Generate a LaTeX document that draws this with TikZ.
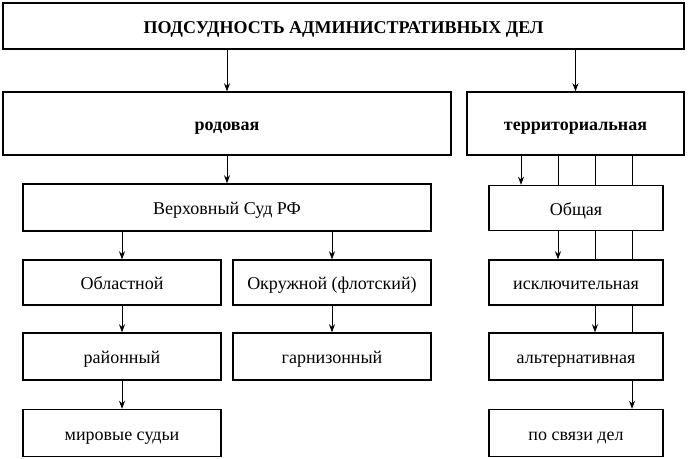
\documentclass[tikz,border=0pt]{standalone}
\usepackage{fontspec}
\setmainfont{Liberation Serif}
\usetikzlibrary{arrows.meta,backgrounds}

\begin{document}
\begin{tikzpicture}[x=1pt,y=-1pt,
  box/.style={draw,line width=1.5pt,fill=white,inner sep=0pt,text height=15pt,text depth=1pt,
    font=\fontsize{18}{21}\selectfont},
  head/.style={box,font=\bfseries\fontsize{18}{21}\selectfont},
  arr/.style={line width=0.7pt,-{Stealth[length=8pt,width=6pt]}}]
\useasboundingbox (0,0) rectangle (688,458);
% boxes
\node[head,minimum width=681pt,minimum height=46pt] (title) at (343.5,26) {ПОДСУДНОСТЬ АДМИНИСТРАТИВНЫХ ДЕЛ};
\node[head,minimum width=448pt,minimum height=63pt] (rod) at (227,123.5) {родовая};
\node[head,minimum width=217pt,minimum height=63pt] (terr) at (575.5,123.5) {территориальная};
\node[box,minimum width=408pt,minimum height=47pt] (vs) at (227,207.5) {Верховный Суд РФ};
\node[box,minimum width=198pt,minimum height=45pt] (obl) at (122,282.5) {Областной};
\node[box,minimum width=198pt,minimum height=45pt] (okr) at (332,282.5) {Окружной (флотский)};
\node[box,minimum width=198pt,minimum height=47pt] (ray) at (122,356.5) {районный};
\node[box,minimum width=198pt,minimum height=47pt] (garn) at (332,356.5) {гарнизонный};
\node[box,minimum width=198pt,minimum height=47pt] (mir) at (122,433) {мировые судьи};
\node[box,minimum width=174pt,minimum height=45pt] (obsh) at (576,208) {Общая};
\node[box,minimum width=174pt,minimum height=45pt] (iskl) at (576,282.5) {исключительная};
\node[box,minimum width=174pt,minimum height=47pt] (alt) at (576,356.5) {альтернативная};
\node[box,minimum width=174pt,minimum height=47pt] (svz) at (576,433) {по связи дел};
% arrows
\draw[arr] (title.south -| rod) -- (rod);
\draw[arr] (title.south -| terr) -- (terr);
\draw[arr] (rod) -- (vs);
\draw[arr] (vs.south -| obl) -- (obl);
\draw[arr] (vs.south -| okr) -- (okr);
\draw[arr] (obl) -- (ray);
\draw[arr] (ray) -- (mir);
\draw[arr] (okr) -- (garn);
% territorial kinds, lines pass behind the boxes
\begin{scope}[on background layer]
\coordinate (t1) at ([xshift=-54.5pt]terr.south);
\coordinate (t2) at ([xshift=-17.5pt]terr.south);
\coordinate (t3) at ([xshift=19.5pt]terr.south);
\coordinate (t4) at ([xshift=56.5pt]terr.south);
\draw[arr] (t1) -- (t1 |- obsh.north);
\draw[arr] (t2) -- (t2 |- iskl.north);
\draw[arr] (t3) -- (t3 |- alt.north);
\draw[arr] (t4) -- (t4 |- svz.north);
\end{scope}
\end{tikzpicture}
\end{document}
